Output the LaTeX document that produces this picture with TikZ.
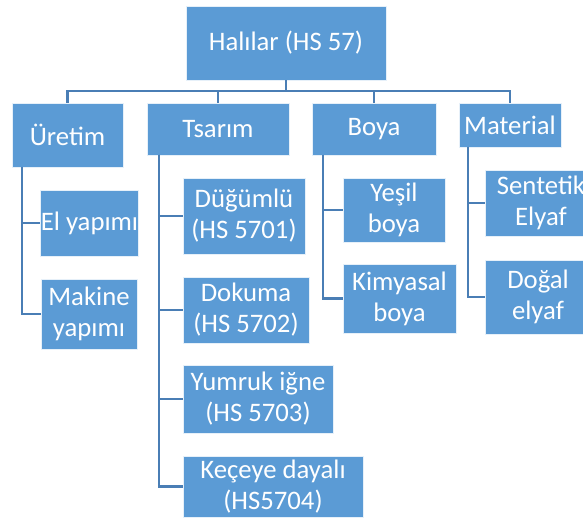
\documentclass[tikz,border=0pt]{standalone}
\usepackage{fontspec}
\setmainfont{Carlito}
\definecolor{boxfill}{HTML}{5B9BD5}
\definecolor{linkblue}{HTML}{4A7EB5}
\begin{document}
\begin{tikzpicture}[x=1pt,y=-1pt,
  box/.style={fill=boxfill, draw=white!85!boxfill, line width=0.8pt, text=white,
    align=center, inner sep=0pt, font=\fontsize{26.7}{31}\selectfont},
  link/.style={draw=linkblue, line width=2.6pt}]
\useasboundingbox (0,0) rectangle (583,521);
\clip (0,0) rectangle (583,521);

% root
\node[box, minimum width=200, minimum height=74] (root) at (286,43) {Halılar (HS 57)};

% second level
\node[box, minimum width=111, minimum height=64] (uretim) at (67.5,135) {Üretim};
\node[box, minimum width=142, minimum height=52] (tasarim) at (218,129) {Tsarım};
\node[box, minimum width=124, minimum height=52] (boya) at (374,129) {Boya};
\node[box, minimum width=102, minimum height=44] (material) at (510,125) {Material};

% Üretim children
\node[box, minimum width=97, minimum height=66] (el) at (89.5,223) {El yapımı};
\node[box, minimum width=96, minimum height=70] (makine) at (89,314) {Makine\\yapımı};

% Tsarım children
\node[box, minimum width=122, minimum height=76] (dugum) at (244,216) {Düğümlü\\(HS 5701)};
\node[box, minimum width=126, minimum height=66] (dokuma) at (246,310) {Dokuma\\(HS 5702)};
\node[box, minimum width=150, minimum height=68] (yumruk) at (258,399) {Yumruk iğne\\(HS 5703)};
\node[box, minimum width=180, minimum height=61] (kece) at (273,486.5) {Keçeye dayalı\\(HS5704)};

% Boya children
\node[box, minimum width=102, minimum height=64] (yesil) at (394,210) {Yeşil\\boya};
\node[box, minimum width=113, minimum height=69] (kimya) at (399.5,298.5) {Kimyasal\\boya};

% Material children
\node[box, minimum width=112, minimum height=66] (sentetik) at (541,203) {Sentetik\\Elyaf};
\node[box, minimum width=106, minimum height=74] (dogal) at (538,297) {Doğal\\elyaf};

% bus below the root
\coordinate (bus) at (286,91);
\foreach \c in {uretim,tasarim,boya,material}
  \draw[link] (root.south) -- (root.south |- bus) -| (\c.north);

% trunks of the child lists
\coordinate (ut) at (22,167);
\coordinate (tt) at (159,155);
\coordinate (bt) at (323,155);
\coordinate (mt) at (468,147);

\draw[link] (ut) |- (el.west);
\draw[link] (ut) |- (makine.west);
\draw[link] (tt) |- (dugum.west);
\draw[link] (tt) |- (dokuma.west);
\draw[link] (tt) |- (yumruk.west);
\draw[link] (tt) |- (kece.west);
\draw[link] (bt) |- (yesil.west);
\draw[link] (bt) |- (kimya.west);
\draw[link] (mt) |- (sentetik.west);
\draw[link] (mt) |- (dogal.west);
\end{tikzpicture}
\end{document}
